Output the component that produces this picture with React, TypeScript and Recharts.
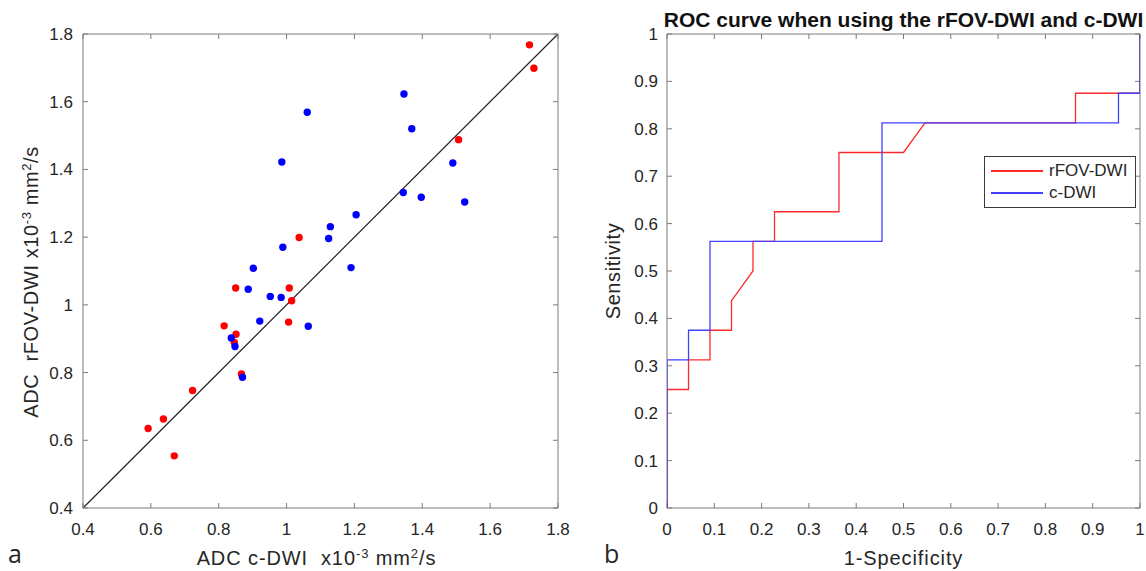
import { ScatterChart, Scatter, XAxis, YAxis, ReferenceLine, Legend, Label } from 'recharts';

const FONT = '"Liberation Sans", Arial, sans-serif';

// panel a: ADC values (x10^-3 mm2/s), c-DWI on x, rFOV-DWI on y
const redX = [0.592, 0.637, 0.669, 0.723, 0.816, 0.846, 0.851, 0.85, 0.867, 1.006, 1.008, 1.015, 1.037, 1.507, 1.716, 1.729];
const redY = [0.635, 0.663, 0.554, 0.747, 0.938, 0.889, 0.913, 1.05, 0.796, 0.949, 1.05, 1.012, 1.199, 1.488, 1.768, 1.699];
const blueX = [0.837, 0.848, 0.87, 0.887, 0.902, 0.921, 0.952, 0.984, 0.986, 0.989, 1.061, 1.064, 1.124, 1.129, 1.19, 1.205, 1.344, 1.346, 1.369, 1.397, 1.49, 1.525];
const blueY = [0.902, 0.877, 0.786, 1.046, 1.108, 0.952, 1.025, 1.022, 1.422, 1.17, 1.569, 0.937, 1.196, 1.231, 1.11, 1.266, 1.332, 1.623, 1.52, 1.318, 1.419, 1.304];
const adcTicks = [0.4, 0.6, 0.8, 1.0, 1.2, 1.4, 1.6, 1.8];

// panel b: ROC curves
const rfovFpr = [0, 0, 0.0455, 0.0455, 0.0909, 0.0909, 0.1364, 0.1364, 0.1818, 0.1818, 0.2273, 0.2273, 0.3636, 0.3636, 0.5, 0.5455, 0.8636, 0.8636, 1, 1];
const rfovTpr = [0, 0.25, 0.25, 0.3125, 0.3125, 0.375, 0.375, 0.4375, 0.5, 0.5625, 0.5625, 0.625, 0.625, 0.75, 0.75, 0.8125, 0.8125, 0.875, 0.875, 1];
const cdwiFpr = [0, 0, 0.0455, 0.0455, 0.0909, 0.0909, 0.4545, 0.4545, 0.9545, 0.9545, 1, 1];
const cdwiTpr = [0, 0.3125, 0.3125, 0.375, 0.375, 0.5625, 0.5625, 0.8125, 0.8125, 0.875, 0.875, 1];
const rocTicks = [0, 0.1, 0.2, 0.3, 0.4, 0.5, 0.6, 0.7, 0.8, 0.9, 1];
const rocNames = ['rFOV-DWI', 'c-DWI'];
const rocColors = ['#ff2a2a', '#4040ff'];

const redPts = redX.map((x, i) => ({ x, y: redY[i] }));
const bluePts = blueX.map((x, i) => ({ x, y: blueY[i] }));
const rfovPts = rfovFpr.map((x, i) => ({ x, y: rfovTpr[i] }));
const cdwiPts = cdwiFpr.map((x, i) => ({ x, y: cdwiTpr[i] }));

const axisColor = '#7a7a7a';
const tickStyle = { fill: '#262626', fontSize: 17, fontFamily: FONT };
const fmt = (v: number) => String(Number(v.toFixed(1)));
const blank = () => '';

const dot = (color: string) => (p: any) => <circle cx={p.cx} cy={p.cy} r={3.7} fill={color} />;
const noDot = () => null;

const titleStyle = { fill: '#262626', fontSize: 20, fontFamily: FONT, whiteSpace: 'pre' as const, letterSpacing: 0.6 };

// "x10-3 mm2/s" with superscripts
const unitSpans = () => [
  <tspan key="a">x10</tspan>,
  <tspan key="b" dy={-7} fontSize={13}>-3</tspan>,
  <tspan key="c" dy={7}> mm</tspan>,
  <tspan key="d" dy={-7} fontSize={13}>2</tspan>,
  <tspan key="e" dy={7}>/s</tspan>,
];

const RocLegend = () => (
  <div style={{ border: '1px solid #3a3a3a', background: '#fff', padding: '3px 8px 3px 6px', fontFamily: FONT, fontSize: 17, color: '#262626' }}>
    {rocNames.map((n, i) => (
      <div key={n} style={{ display: 'flex', alignItems: 'center', height: 22 }}>
        <span style={{ width: 52, height: 1.5, background: rocColors[i], marginRight: 6 }} />
        {n}
      </div>
    ))}
  </div>
);

export default function App() {
  return (
    <div style={{ position: 'absolute', left: 0, top: 0, width: 1146, height: 571, background: '#fff', overflow: 'hidden' }}>
      <div style={{ position: 'absolute', left: 0, top: 0 }}>
        <ScatterChart width={600} height={571} margin={{ top: 33, right: 41, bottom: 0, left: 0 }}>
          <XAxis type="number" dataKey="x" domain={[0.4, 1.8]} ticks={adcTicks} height={63} tick={tickStyle}
            tickSize={-5} tickMargin={20} stroke={axisColor} tickFormatter={fmt} allowDataOverflow>
            <Label content={({ viewBox }: any) => (
              <g>
                <text x={viewBox.x + viewBox.width / 2 - 4} y={viewBox.y + 57} textAnchor="middle" style={{ ...titleStyle, letterSpacing: 0.9 }}>
                  <tspan>ADC c-DWI  </tspan>{unitSpans()}
                </text>
                <text x={8} y={563} style={{ fill: '#262626', fontSize: 25, fontFamily: '"Open Sans", sans-serif' }}>a</text>
              </g>
            )} />
          </XAxis>
          <XAxis xAxisId="top" orientation="top" type="number" dataKey="x" domain={[0.4, 1.8]} ticks={adcTicks}
            height={1} tickSize={-5} stroke={axisColor} tickFormatter={blank} allowDataOverflow />
          <YAxis type="number" dataKey="y" domain={[0.4, 1.8]} ticks={adcTicks} width={83} tick={tickStyle}
            tickSize={-5} tickMargin={15} stroke={axisColor} tickFormatter={fmt} allowDataOverflow>
            <Label content={({ viewBox }: any) => {
              const cy = viewBox.y + viewBox.height / 2 + 11;
              return (
                <text x={38} y={cy} transform={`rotate(-90, 38, ${cy})`} textAnchor="middle" style={titleStyle}>
                  <tspan>ADC  rFOV-DWI </tspan>{unitSpans()}
                </text>
              );
            }} />
          </YAxis>
          <YAxis yAxisId="right" orientation="right" type="number" dataKey="y" domain={[0.4, 1.8]} ticks={adcTicks}
            width={1} tickSize={-5} stroke={axisColor} tickFormatter={blank} allowDataOverflow />
          <ReferenceLine segment={[{ x: 0.4, y: 0.4 }, { x: 1.8, y: 1.8 }]} stroke="#222" strokeWidth={1.2} />
          <Scatter xAxisId="top" yAxisId="right" data={redPts} shape={noDot} legendType="none" isAnimationActive={false} />
          <Scatter data={redPts} fill="#ff0000" shape={dot('#ff0000')} isAnimationActive={false} />
          <Scatter data={bluePts} fill="#0000ff" shape={dot('#0000ff')} isAnimationActive={false} />
        </ScatterChart>
      </div>

      <div style={{ position: 'absolute', left: 600, top: 0 }}>
        <ScatterChart width={546} height={571} margin={{ top: 33, right: 5, bottom: 0, left: 0 }}>
          <XAxis type="number" dataKey="x" domain={[0, 1]} ticks={rocTicks} height={63} tick={tickStyle}
            tickSize={-5} tickMargin={20} stroke={axisColor} tickFormatter={fmt} allowDataOverflow>
            <Label content={({ viewBox }: any) => (
              <g>
                <text x={viewBox.x + viewBox.width / 2} y={viewBox.y + 57} textAnchor="middle" style={{ ...titleStyle, letterSpacing: 0.9 }}>1-Specificity</text>
                <text x={4} y={563} style={{ fill: '#262626', fontSize: 25, fontFamily: '"Open Sans", sans-serif' }}>b</text>
              </g>
            )} />
          </XAxis>
          <XAxis xAxisId="top" orientation="top" type="number" dataKey="x" domain={[0, 1]} ticks={rocTicks}
            height={1} tickSize={-5} stroke={axisColor} tickFormatter={blank} allowDataOverflow>
            <Label content={({ viewBox }: any) => (
              <text x={viewBox.x + viewBox.width / 2} y={27} textAnchor="middle"
                style={{ fill: '#111', fontSize: 21, fontWeight: 'bold', fontFamily: FONT }}>
                ROC curve when using the rFOV-DWI and c-DWI
              </text>
            )} />
          </XAxis>
          <YAxis type="number" dataKey="y" domain={[0, 1]} ticks={rocTicks} width={67} tick={tickStyle}
            tickSize={-5} tickMargin={14} stroke={axisColor} tickFormatter={fmt} allowDataOverflow>
            <Label content={({ viewBox }: any) => {
              const cy = viewBox.y + viewBox.height / 2;
              return (
                <text x={20} y={cy} transform={`rotate(-90, 20, ${cy})`} textAnchor="middle" style={titleStyle}>Sensitivity</text>
              );
            }} />
          </YAxis>
          <YAxis yAxisId="right" orientation="right" type="number" dataKey="y" domain={[0, 1]} ticks={rocTicks}
            width={1} tickSize={-5} stroke={axisColor} tickFormatter={blank} allowDataOverflow />
          <Legend layout="vertical" align="center" verticalAlign="middle" content={RocLegend}
            wrapperStyle={{ left: 384, top: 156, width: 'auto' }} />
          <Scatter xAxisId="top" yAxisId="right" data={rfovPts} shape={noDot} legendType="none" isAnimationActive={false} />
          <Scatter data={rfovPts} line={{ stroke: rocColors[0], strokeWidth: 1.3 }} shape={noDot} isAnimationActive={false} />
          <Scatter data={cdwiPts} line={{ stroke: rocColors[1], strokeWidth: 1.3 }} shape={noDot} isAnimationActive={false} />
        </ScatterChart>
      </div>
    </div>
  );
}
